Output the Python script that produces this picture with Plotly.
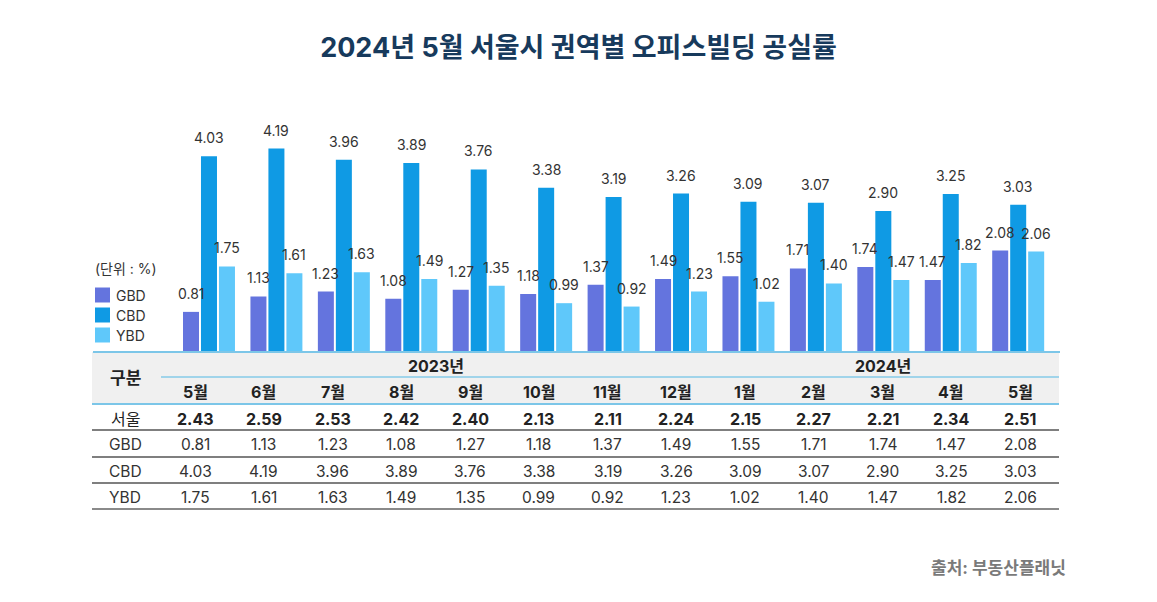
import plotly.graph_objects as go

# ---------------- data ----------------
months = ["5월", "6월", "7월", "8월", "9월", "10월", "11월", "12월", "1월", "2월", "3월", "4월", "5월"]
years = ["2023년", "2024년"]
year_spans = [8, 5]
seoul = [2.43, 2.59, 2.53, 2.42, 2.40, 2.13, 2.11, 2.24, 2.15, 2.27, 2.21, 2.34, 2.51]
gbd = [0.81, 1.13, 1.23, 1.08, 1.27, 1.18, 1.37, 1.49, 1.55, 1.71, 1.74, 1.47, 2.08]
cbd = [4.03, 4.19, 3.96, 3.89, 3.76, 3.38, 3.19, 3.26, 3.09, 3.07, 2.90, 3.25, 3.03]
ybd = [1.75, 1.61, 1.63, 1.49, 1.35, 0.99, 0.92, 1.23, 1.02, 1.40, 1.47, 1.82, 2.06]
series_names = ["GBD", "CBD", "YBD"]
series_vals = [gbd, cbd, ybd]
series_colors = ["#6474de", "#0f9ae4", "#5fc8fa"]

FONT = "Inter, 'Noto Sans CJK KR', sans-serif"
W, H = 1157, 602
L, R, T, B = 93, 97, 100, 251   # plot area margins in px
PW, PH = W - L - R, H - T - B

def px_x(px):
    return (px - L) / PW

def px_y(py):
    return (H - B - py) / PH

x_idx = list(range(len(months)))
BARGAP = 0.2
step = (1 - BARGAP) / 3

fig = go.Figure()
for name, vals, col in zip(series_names, series_vals, series_colors):
    fig.add_trace(go.Bar(x=x_idx, y=vals, name=name, marker_color=col,
                         marker_line_width=0, showlegend=False,
                         hovertemplate=name + " %{y:.2f}<extra></extra>"))

annotations = []

def ann(px, py, text, size, color, xanchor="center", yanchor="middle"):
    annotations.append(dict(x=px_x(px), y=px_y(py), xref="paper", yref="paper", text=text,
                            showarrow=False, xanchor=xanchor, yanchor=yanchor,
                            font=dict(family=FONT, size=size, color=color)))

# value labels above bars
for k, vals in enumerate(series_vals):
    off = (k - 1) * step
    for i, v in enumerate(vals):
        annotations.append(dict(x=i + off, y=v, xref="x", yref="y", text=f"{v:.2f}",
                                showarrow=False, xanchor="center", yanchor="middle", yshift=18.5,
                                font=dict(family=FONT, size=14, color="#333333")))

# legend (manual)
ann(93, 268, "(단위 : %)", 14, "#333333", xanchor="left")
shapes = []
for k, (name, col) in enumerate(zip(series_names, series_colors)):
    cy = 295 + 20 * k
    shapes.append(dict(type="rect", xref="paper", yref="paper",
                       x0=px_x(95), x1=px_x(110), y0=px_y(cy - 7.5), y1=px_y(cy + 7.5),
                       fillcolor=col, line_width=0))
    ann(114, cy, name, 14, "#333333", xanchor="left")

# ---------------- table ----------------
TX0, TX1 = 92, 1059
col_x = [195 + j * 68.75 for j in range(len(months))]
# header background
shapes.append(dict(type="rect", xref="paper", yref="paper", x0=px_x(TX0), x1=px_x(TX1),
                   y0=px_y(352), y1=px_y(404), fillcolor="#f0f0f0", line_width=0, layer="below"))
# year / month separator
shapes.append(dict(type="line", xref="paper", yref="paper", x0=px_x(161), x1=px_x(TX1),
                   y0=px_y(377), y1=px_y(377), line=dict(color="#86cbe8", width=1.5)))
# header bottom line
shapes.append(dict(type="line", xref="paper", yref="paper", x0=px_x(TX0), x1=px_x(TX1),
                   y0=px_y(404), y1=px_y(404), line=dict(color="#7cc6e8", width=2)))
# row lines
for yy, colr, wd in [(430, "#555555", 1.3), (457, "#555555", 1.3), (483, "#555555", 1.3), (509, "#8a8a8a", 2)]:
    shapes.append(dict(type="line", xref="paper", yref="paper", x0=px_x(TX0), x1=px_x(TX1),
                       y0=px_y(yy), y1=px_y(yy), line=dict(color=colr, width=wd)))

ann(125, 378, "<b>구분</b>", 17, "#222222")
start = 0
for yr, span in zip(years, year_spans):
    cx = (col_x[start] + col_x[start + span - 1]) / 2
    ann(cx, 366, f"<b>{yr}</b>", 16, "#222222")
    start += span
for j, m in enumerate(months):
    ann(col_x[j], 392, f"<b>{m}</b>", 16, "#222222")

rows = [("서울", seoul, True, 419), ("GBD", gbd, False, 444), ("CBD", cbd, False, 471), ("YBD", ybd, False, 497)]
for label, vals, bold, yy in rows:
    size = 16 if bold else 15.5
    color = "#222222" if bold else "#333333"
    ann(125, yy, label, 16 if bold else 15.5, color)
    for j, v in enumerate(vals):
        t = f"<b>{v:.2f}</b>" if bold else f"{v:.2f}"
        ann(col_x[j], yy, t, size, color)

ann(1068, 568, "<b>출처: 부동산플래닛</b>", 17, "#7a7a7a", xanchor="right")

fig.update_layout(
    width=W, height=H,
    margin=dict(l=L, r=R, t=T, b=B, pad=0),
    paper_bgcolor="white", plot_bgcolor="white",
    barmode="group", bargap=BARGAP, bargroupgap=0.11,
    title=dict(text="<b>2024년 5월 서울시 권역별 오피스빌딩 공실률</b>",
               x=0.5, xanchor="center", y=1 - 48 / H, yanchor="middle", yref="container",
               font=dict(family=FONT, size=27, color="#173a5c")),
    xaxis=dict(range=[-1.72, 12.62], showticklabels=False, showgrid=False, zeroline=False,
               showline=True, linecolor="#7cc6e8", linewidth=2, ticks="", fixedrange=True),
    yaxis=dict(range=[0, PH / 48.3], visible=False, showgrid=False, zeroline=False, fixedrange=True),
    shapes=shapes,
    annotations=annotations,
    showlegend=False,
)

fig.write_html("out.html")
